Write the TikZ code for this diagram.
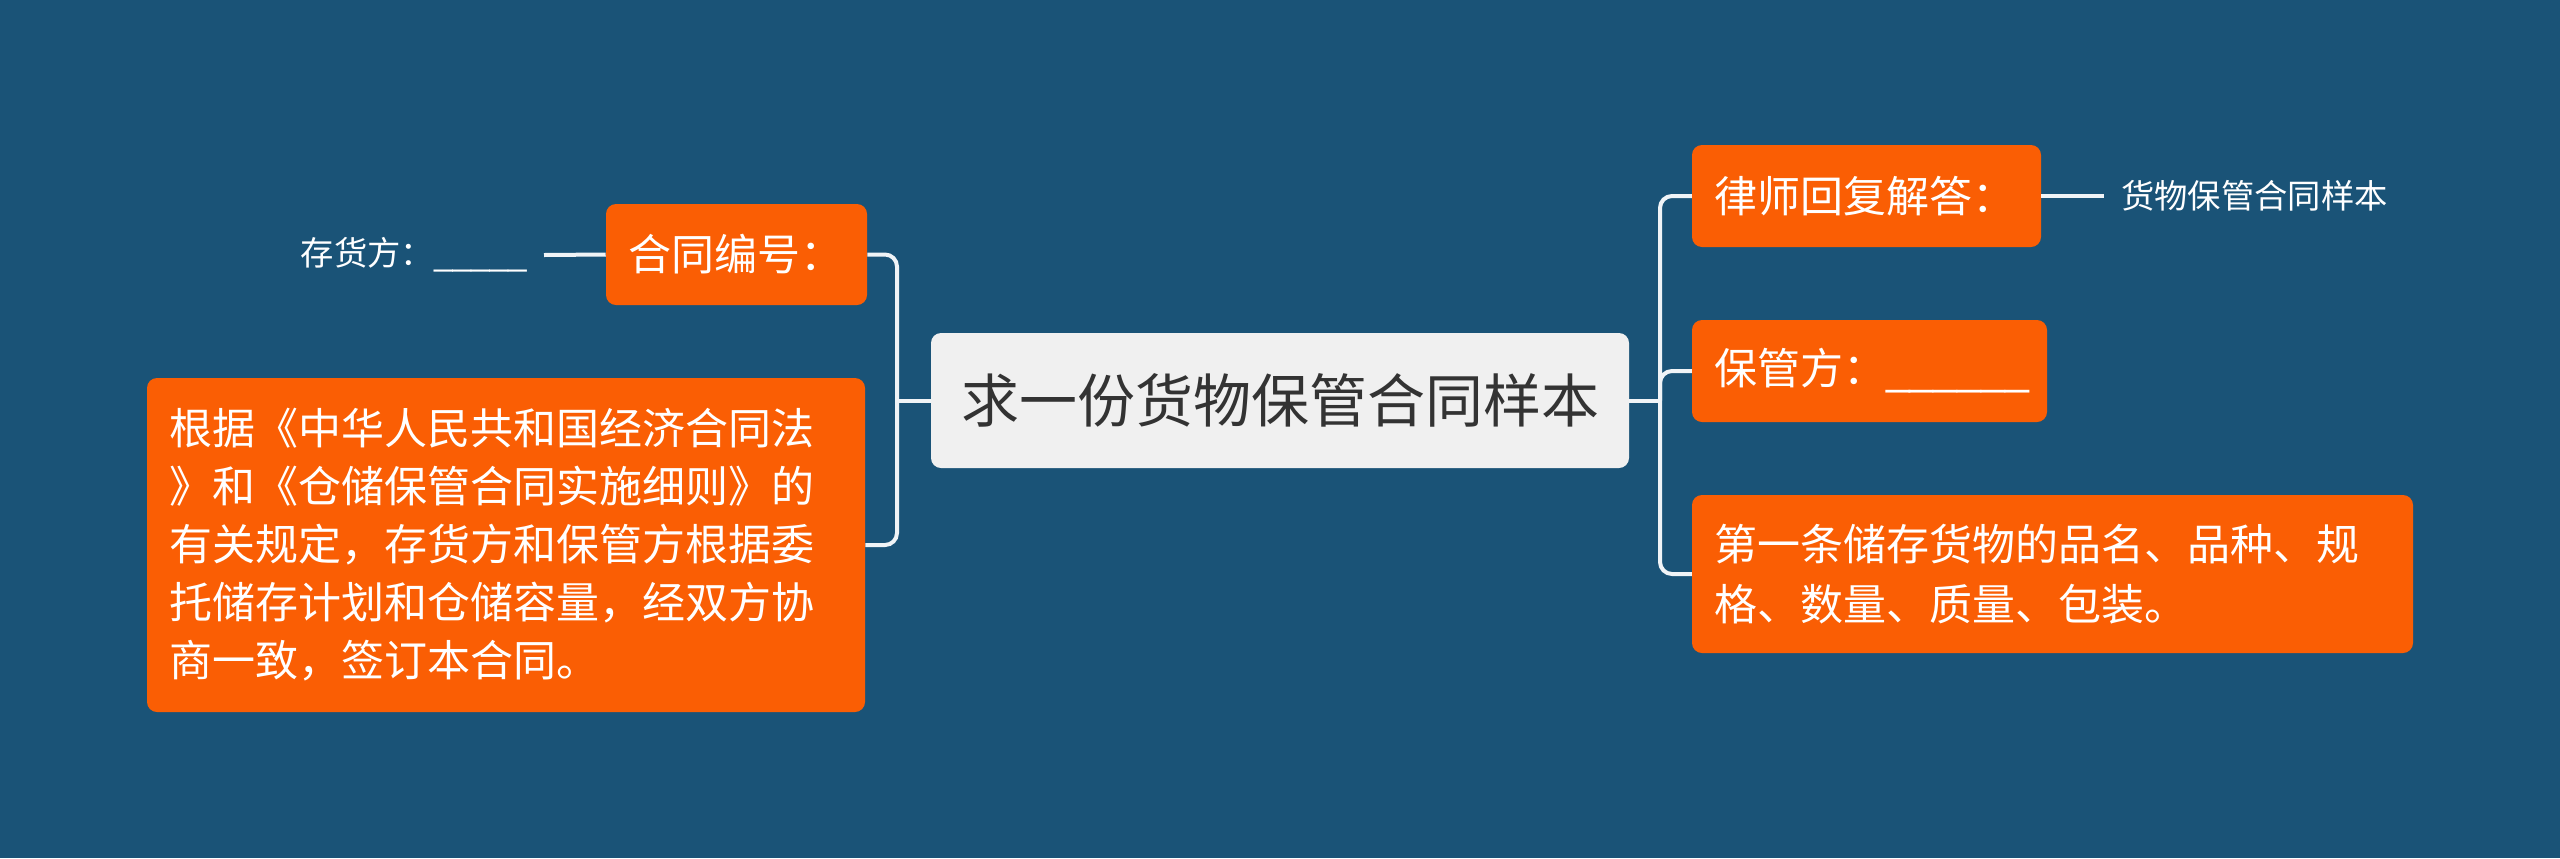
\documentclass[tikz,border=0pt]{standalone}
\usepackage{fontspec}
\setmainfont{Noto Sans CJK SC}
\newfontfamily\latfont{Liberation Sans}
\definecolor{bgblue}{RGB}{26,83,119}
\definecolor{boxorange}{RGB}{250,94,4}
\definecolor{rootfill}{RGB}{240,240,240}
\definecolor{roottext}{RGB}{51,51,51}
\definecolor{linecol}{RGB}{240,244,247}
\tikzset{
  orangebox/.style={fill=boxorange, rounded corners=7.5pt, text=white, align=left,
    inner xsep=16.5pt, inner ysep=0pt, font=\fontsize{32.25pt}{43.5pt}\selectfont},
  rootbox/.style={fill=rootfill, rounded corners=7.5pt, text=roottext, align=center,
    inner sep=0pt, font=\fontsize{43.5pt}{52pt}\selectfont},
  leaftext/.style={text=white, inner xsep=12.75pt, inner ysep=0pt, font=\fontsize{25pt}{30pt}\selectfont},
  conn/.style={draw=linecol, line width=3pt},
}
\begin{document}
\begin{tikzpicture}[x=0.75pt,y=-0.75pt]
\fill[bgblue] (0,0) rectangle (2560,858);
\useasboundingbox (0,0) rectangle (2560,858);

\node[rootbox, minimum width=523.5pt, minimum height=101.25pt] (root) at (1280,400.5) {求一份货物保管合同样本};

\node[orangebox, text width=162.75pt, minimum height=75.75pt] (hetong) at (736.5,254.5) {合同编号：};
\node[orangebox, text width=505.5pt, minimum height=250.5pt] (big) at (506,545)
  {根据《中华人民共和国经济合同法\\》和《仓储保管合同实施细则》的\\有关规定，存货方和保管方根据委\\托储存计划和仓储容量，经双方协\\商一致，签订本合同。};
\node[leaftext, anchor=east] (cunhuo) at (544,255) {存货方：{\latfont\_\_\_\_\_}};

\node[orangebox, text width=228.75pt, minimum height=76.5pt] (lawyer) at (1866.5,196) {律师回复解答：};
\node[leaftext, anchor=west] (answer) at (2104,196) {货物保管合同样本};
\node[orangebox, text width=233.25pt, minimum height=76.5pt] (baoguan) at (1869.5,371) {保管方：{\latfont\_\_\_\_\_\_}};
\node[orangebox, text width=507.75pt, minimum height=118.5pt, font=\fontsize{32.25pt}{45pt}\selectfont] (first) at (2052.5,574)
  {第一条储存货物的品名、品种、规\\格、数量、质量、包装。};

\coordinate (lt) at (897,400.5);
\coordinate (rt) at (1660,400.5);

\draw[conn] (root.west) -- (lt);
\draw[conn, rounded corners=9pt] (hetong.east) -| (lt) |- (big.east);
\draw[conn] (hetong.west) -- (cunhuo.east);

\draw[conn] (root.east) -- (rt);
\draw[conn, rounded corners=9pt] (lawyer.west) -| (rt) |- (first.west);
\draw[conn, rounded corners=9pt] (rt) |- (baoguan.west);
\draw[conn] (lawyer.east) -- (answer.west);
\end{tikzpicture}
\end{document}
